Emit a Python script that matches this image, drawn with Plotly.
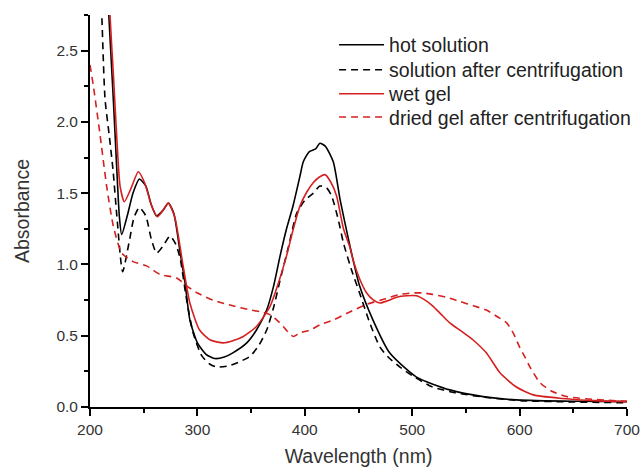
import plotly.graph_objects as go

# hot solution (black solid)
hot_x = [214, 217.5, 221.7, 224.8, 227.3, 229.5, 235, 240, 246, 252, 257, 262, 268, 273, 278, 284, 288.5,
         293, 300, 308, 316, 325, 333, 346, 355, 364.5, 371, 377, 383, 389, 395.5, 398.6, 404, 410, 414,
         419, 426.5, 433, 442, 451, 463.5, 479, 504, 535, 566, 597, 650, 700]
hot_y = [3.3, 2.75, 2.16, 1.69, 1.34, 1.21, 1.35, 1.50, 1.60, 1.55, 1.42, 1.34, 1.38, 1.43, 1.36, 1.08, 0.87,
         0.61, 0.45, 0.37, 0.34, 0.35, 0.38, 0.45, 0.54, 0.68, 0.85, 1.06, 1.25, 1.41, 1.62, 1.72, 1.79, 1.81, 1.85,
         1.83, 1.72, 1.45, 1.13, 0.85, 0.61, 0.38, 0.21, 0.12, 0.073, 0.05, 0.04, 0.038]

# solution after centrifugation (black dashed)
sol_x = [208, 211, 214, 218, 221.6, 225, 230.4, 237, 241, 246, 252, 257, 262, 268, 274.5, 280, 284, 290, 296,
         304, 311.7, 318, 330, 340, 349, 357, 364.5, 371, 377, 385, 392.5, 400, 408, 414, 420, 425, 431, 436,
         444, 451, 460, 470, 479, 488.6, 500, 519, 540, 566, 600, 650, 700]
sol_y = [3.4, 2.75, 2.16, 1.90, 1.65, 1.34, 0.95, 1.18, 1.33, 1.40, 1.34, 1.18, 1.08, 1.13, 1.20, 1.14, 1.04,
         0.75, 0.52, 0.36, 0.30, 0.28, 0.29, 0.32, 0.355, 0.43, 0.54, 0.70, 0.89, 1.13, 1.36, 1.45, 1.50, 1.55,
         1.54, 1.48, 1.32, 1.15, 0.95, 0.80, 0.60, 0.42, 0.34, 0.28, 0.22, 0.14, 0.10, 0.07, 0.045, 0.035, 0.03]

# wet gel (red solid)
wet_x = [215, 218.6, 222, 225, 228, 232, 238, 245, 251, 257, 262.6, 268, 273, 279, 286.7, 293, 302, 312, 324,
         333, 342.7, 355, 367.6, 375, 383, 389, 395.5, 402, 408, 413, 418.8, 424, 429.6, 436, 442, 445, 451,
         457.6, 464, 470, 477, 485.5, 495, 504, 512, 519, 527, 535, 546, 556.7, 569, 581.7, 597, 612.5, 640,
         670, 700]
wet_y = [3.4, 2.75, 2.30, 1.88, 1.55, 1.44, 1.53, 1.65, 1.57, 1.42, 1.335, 1.38, 1.43, 1.33, 0.99, 0.73, 0.54,
         0.47, 0.45, 0.465, 0.495, 0.565, 0.705, 0.86, 1.06, 1.24, 1.41, 1.51, 1.575, 1.61, 1.63, 1.58, 1.48,
         1.25, 1.12, 1.03, 0.90, 0.80, 0.75, 0.73, 0.745, 0.77, 0.78, 0.78, 0.75, 0.71, 0.65, 0.59, 0.53, 0.47,
         0.38, 0.24, 0.14, 0.085, 0.06, 0.045, 0.038]

# dried gel after centrifugation (red dashed)
dry_x = [200, 203, 209, 215.5, 221.7, 229.5, 240, 252.7, 265, 280.7, 290, 300, 314.6, 333, 350, 361, 367,
         374, 380, 385, 389.3, 395.5, 405, 415, 426.5, 440, 457.6, 475, 488.6, 500, 510, 519, 532, 544.5,
         557, 569, 580, 588, 594, 600, 605, 609.7, 619, 630, 643.8, 675, 700]
dry_y = [2.40, 2.26, 1.93, 1.55, 1.27, 1.08, 1.02, 0.99, 0.93, 0.905, 0.85, 0.80, 0.75, 0.71, 0.68, 0.665,
         0.65, 0.61, 0.565, 0.52, 0.495, 0.52, 0.54, 0.58, 0.61, 0.66, 0.72, 0.76, 0.79, 0.80, 0.80, 0.79,
         0.77, 0.74, 0.71, 0.68, 0.63, 0.59, 0.52, 0.42, 0.35, 0.28, 0.17, 0.11, 0.073, 0.05, 0.04]

series = [
    ("hot solution", hot_x, hot_y, "#000000", "solid"),
    ("solution after centrifugation", sol_x, sol_y, "#000000", "7px,5px"),
    ("wet gel", wet_x, wet_y, "#d62020", "solid"),
    ("dried gel after centrifugation", dry_x, dry_y, "#d62020", "7px,5px"),
]
legend_ids = ["legend", "legend2", "legend3", "legend4"]
legend_rows_y = [0.8894, 0.8280, 0.7690, 0.7118]   # paper fractions of each legend row

FONT = "Liberation Sans, Arial, sans-serif"

fig = go.Figure()
for (name, xs, ys, col, dash), lid in zip(series, legend_ids):
    fig.add_trace(go.Scatter(x=xs, y=ys, mode="lines", name=name, legend=lid,
                             line=dict(color=col, width=1.6, dash=dash, shape="spline", smoothing=0.6)))

axis_common = dict(showline=True, linecolor="#000000", linewidth=1.8, ticks="outside", ticklen=7,
                   tickwidth=1.5, tickcolor="#000000", showgrid=False, zeroline=False, mirror=False,
                   automargin=False,
                   tickfont=dict(family=FONT, size=15.5, color="#333"))

legend_layout = {}
for lid, ly in zip(legend_ids, legend_rows_y):
    legend_layout[lid] = dict(x=0.4545, y=ly, xanchor="left", yanchor="middle", bgcolor="rgba(0,0,0,0)",
                              font=dict(family=FONT, size=19.5, color="#222"), itemwidth=45)

fig.update_layout(
    width=642, height=467,
    margin=dict(l=90, r=15, t=0, b=60),
    paper_bgcolor="white", plot_bgcolor="white",
    font=dict(family=FONT, color="#333"),
    xaxis=dict(range=[200, 700], dtick=100,
               minor=dict(dtick=50, ticks="outside", ticklen=4, tickwidth=1.5, tickcolor="#000"),
               title=dict(text="Wavelength (nm)", font=dict(size=19.5, color="#333"), standoff=14),
               **axis_common),
    yaxis=dict(range=[0, 2.75], dtick=0.5, tickformat=".1f", domain=[0, 392 / 407],
               minor=dict(dtick=0.25, ticks="outside", ticklen=4, tickwidth=1.5, tickcolor="#000"),
               title=dict(text="Absorbance", font=dict(size=19.5, color="#333"), standoff=22),
               **axis_common),
    showlegend=True,
    **legend_layout,
)

fig.write_html(
    "out.html",
    config={"responsive": False, "displayModeBar": False},
    post_script="document.body.style.margin='0';document.body.style.padding='0';"
                "document.body.style.overflow='hidden';",
)
